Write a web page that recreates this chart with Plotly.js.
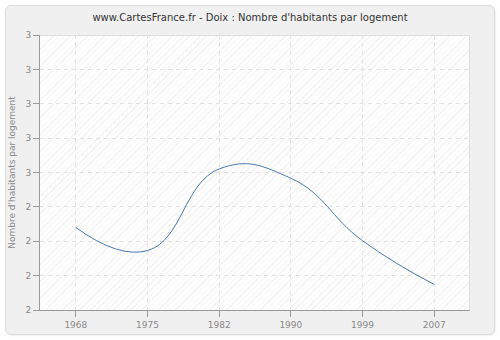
<!DOCTYPE html>
<html>
<head>
<meta charset="utf-8">
<script src="https://cdn.plot.ly/plotly-3.0.1.min.js"></script>
<style>
  html, body { margin: 0; padding: 0; background: #ffffff; }
  #wrap { position: relative; width: 500px; height: 340px; }
  #frame { position: absolute; left: 5px; top: 5px; width: 488px; height: 328px;
           background: #f0f0f0; border: 1px solid #dcdcdc; border-radius: 6px;
           box-shadow: 1px 1px 2px rgba(0,0,0,0.06); }
  #hatch { position: absolute; left: 40px; top: 35px; width: 430px; height: 275px;
           background: repeating-linear-gradient(-45deg, #ffffff 0px, #ffffff 3px, #f3f3f3 3px, #f3f3f3 4px);
           border-top: 1px solid #dddddd; border-right: 1px solid #dddddd; box-sizing: border-box; }
  #chart { position: absolute; left: 0; top: 0; width: 500px; height: 340px; }
</style>
</head>
<body>
<div id="wrap">
  <div id="frame"></div>
  <div id="hatch"></div>
  <div id="chart"></div>
</div>
<script>
const years = ['1968', '1975', '1982', '1990', '1999', '2007'];
const habitantsParLogement = [2.30, 2.216, 2.513, 2.479, 2.252, 2.093];
const yTickVals = [2, 2.125, 2.25, 2.375, 2.5, 2.625, 2.75, 2.875, 3];
const yTickLabels = ['2', '2', '2', '2', '3', '3', '3', '3', '3'];

const trace = {
  x: years,
  y: habitantsParLogement,
  type: 'scatter',
  mode: 'lines',
  line: { color: '#4a78b0', width: 1, shape: 'spline', smoothing: 1.3 },
  hoverinfo: 'x+y'
};

const layout = {
  width: 500,
  height: 340,
  margin: { l: 40, r: 30, t: 35, b: 30, pad: 0 },
  paper_bgcolor: 'rgba(0,0,0,0)',
  plot_bgcolor: 'rgba(0,0,0,0)',
  font: { family: 'DejaVu Sans, Verdana, sans-serif', size: 9, color: '#888888' },
  title: {
    text: "www.CartesFrance.fr - Doix : Nombre d'habitants par logement",
    font: { family: 'DejaVu Sans, Verdana, sans-serif', size: 10, color: '#333333' },
    x: 0.5, xanchor: 'center', y: 1 - 17/340, yanchor: 'middle'
  },
  showlegend: false,
  xaxis: {
    type: 'category',
    range: [-0.5, 5.5],
    showline: true, linecolor: '#999999', linewidth: 1,
    ticks: 'outside', ticklen: 6, tickcolor: '#999999',
    showgrid: true, gridcolor: '#e2e2e2', griddash: '4px,4px', gridwidth: 1,
    tickfont: { size: 9, color: '#888888' },
    zeroline: false, fixedrange: true
  },
  yaxis: {
    range: [2, 3],
    tickmode: 'array', tickvals: yTickVals, ticktext: yTickLabels,
    showline: true, linecolor: '#999999', linewidth: 1,
    ticks: 'outside', ticklen: 6, tickcolor: '#999999',
    showgrid: true, gridcolor: '#e2e2e2', griddash: '4px,4px', gridwidth: 1,
    tickfont: { size: 9, color: '#888888' },
    zeroline: false, fixedrange: true,
    title: { text: "Nombre d'habitants par logement", font: { size: 9, color: '#888888' }, standoff: 8 }
  }
};

Plotly.newPlot('chart', [trace], layout, { displayModeBar: false, staticPlot: true });
</script>
</body>
</html>
